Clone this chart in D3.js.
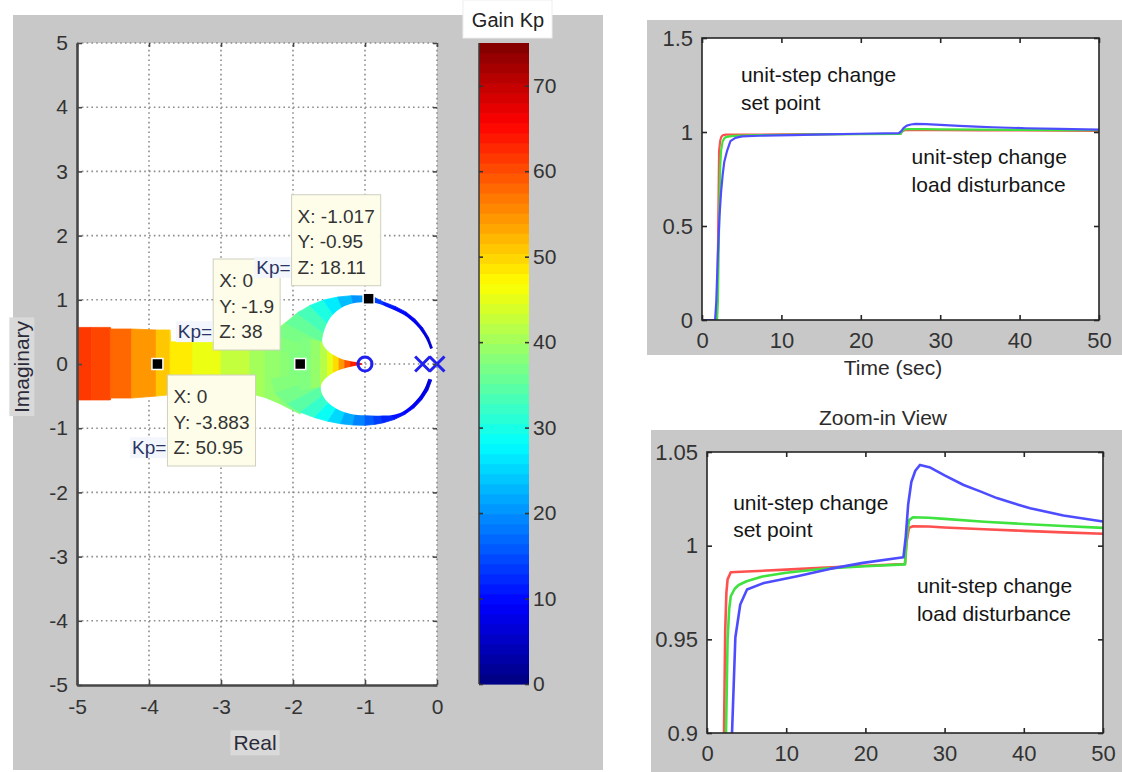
<!DOCTYPE html>
<html>
<head>
<meta charset="utf-8">
<script src="https://cdn.jsdelivr.net/npm/d3@7"></script>
<style>
  html, body { margin: 0; padding: 0; background: #fff; }
  svg { display: block; font-family: "Liberation Sans", Arial, sans-serif; }
</style>
</head>
<body>
<svg id="fig" width="1122" height="772"></svg>
<script>
// ---------------- root locus (left panel) ----------------
const reTicks = [-5, -4, -3, -2, -1, 0];
const imTicks = [-5, -4, -3, -2, -1, 0, 1, 2, 3, 4, 5];
const gainTicks = [0, 10, 20, 30, 40, 50, 60, 70];
const gainMax = 75;

// open-loop poles and zero
const poles = [0, -0.2];
const zeros = [-1.0];

// left band of the locus: vertical cross-sections (real part, upper edge, lower edge, gain)
const bandRe  = [-5.03, -4.80, -4.54, -4.53, -4.24, -3.90, -3.71, -3.70, -3.39, -3.00, -2.60, -2.39, -2.18, -2.04, -1.90];
const bandTop = [0.57, 0.57, 0.57, 0.545, 0.545, 0.53, 0.53, 0.345, 0.345, 0.345, 0.35, 0.42, 0.58, 0.70, 0.83];
const bandBot = [-0.56, -0.56, -0.56, -0.53, -0.53, -0.50, -0.48, -0.45, -0.44, -0.44, -0.46, -0.52, -0.62, -0.70, -0.78];
const bandKp  = [62, 61, 60, 59, 57, 52, 50, 49.5, 47, 44, 41, 39.5, 38.5, 38, 37];

// circular branches around the zero at -1: angle (deg), outer radius, gain
const lobeAngle  = [170, 160, 150, 140, 130, 120, 110, 100, 90, 82, 75, 65, 55, 45, 35, 25, 15];
const upperOuter = [1.32, 1.33, 1.27, 1.23, 1.19, 1.15, 1.11, 1.08, 1.06, 1.04, 1.0, 0.99, 0.99, 0.985, 0.98, 0.975, 0.97];
const upperKp    = [38, 37.5, 36.5, 34.5, 32, 28.5, 25, 21.5, 19, 16, 12, 10.5, 9.5, 8.5, 7.5, 6.5, 5.5];
const lowerOuter = [1.32, 1.33, 1.25, 1.17, 1.09, 1.03, 0.99, 0.965, 0.955, 0.95, 0.95, 0.955, 0.96, 0.965, 0.965, 0.965, 0.96];
const lowerKp    = [38, 37.5, 36, 33.5, 30.5, 27, 23.5, 20.5, 17.5, 15, 13, 11, 10, 9, 8, 7, 6];

// real-axis segment running into the zero
const wedgeRe   = [-1.90, -1.75, -1.62, -1.52, -1.44, -1.36, -1.28, -1.20, -1.12, -1.04, -1.00];
const wedgeHalf = [0.40, 0.38, 0.35, 0.25, 0.17, 0.12, 0.09, 0.07, 0.05, 0.04, 0.03];
const wedgeKp   = [37, 38, 40, 43, 47, 52, 57, 62, 65, 67, 67];

// region enclosed by the branches (left empty)
const holePts = [
  [-1.03, 0.0], [-1.10, 0.025], [-1.21, 0.045], [-1.35, 0.09], [-1.50, 0.19], [-1.59, 0.32],
  [-1.58, 0.47], [-1.54, 0.60], [-1.46, 0.75], [-1.32, 0.88], [-1.16, 0.945], [-0.97, 0.96],
  [-0.80, 0.935], [-0.68, 0.879], [-0.464, 0.766], [-0.284, 0.601], [-0.153, 0.395], [-0.085, 0.194],
  [-0.065, 0.0],
  [-0.11, -0.19], [-0.175, -0.385], [-0.303, -0.585], [-0.478, -0.745], [-0.62, -0.795], [-0.80, -0.805],
  [-1.0, -0.80], [-1.21, -0.774], [-1.39, -0.70], [-1.53, -0.58], [-1.61, -0.42], [-1.60, -0.30],
  [-1.51, -0.19], [-1.35, -0.09], [-1.21, -0.045], [-1.10, -0.025]
];

// data tips: X, Y, Z (Kp)
const tipX = [-1.017, 0, 0];
const tipY = [-0.95, -1.9, -3.883];
const tipZ = [18.11, 38, 50.95];

// ---------------- closed-loop responses (right panels) ----------------
const timeTicks = [0, 10, 20, 30, 40, 50];
const respTicks = [0, 0.5, 1, 1.5];
const zoomTicks = [0.9, 0.95, 1, 1.05];

const redT = [0, 1.85, 1.95, 2.05, 2.15, 2.3, 2.45, 2.6, 3.0, 5, 10, 15, 20, 25, 25.2, 25.5, 26, 28, 30, 35, 40, 45, 50];
const redV = [0, 0, 0.15, 0.55, 0.9, 0.955, 0.975, 0.982, 0.9858, 0.9862, 0.9872, 0.9883, 0.9893, 0.9902, 1.002, 1.0095, 1.0104, 1.0102, 1.0097, 1.0088, 1.0079, 1.0071, 1.0064];

const greenT = [0, 1.9, 2.0, 2.1, 2.2, 2.3, 2.4, 2.6, 2.8, 3.0, 3.5, 4, 5, 7, 10, 15, 20, 25, 25.2, 25.5, 26, 28, 30, 35, 40, 45, 50];
const greenV = [0, 0, 0.1, 0.35, 0.62, 0.82, 0.9, 0.95, 0.966, 0.973, 0.977, 0.979, 0.981, 0.9835, 0.9855, 0.9878, 0.989, 0.9900, 1.004, 1.0135, 1.0152, 1.0149, 1.0143, 1.0128, 1.0116, 1.0105, 1.0095];

const blueT = [0, 1.65, 1.8, 2.0, 2.2, 2.4, 2.6, 2.8, 3.16, 3.58, 4.2, 5.05, 7.2, 11.4, 15.5, 19.7, 24.8, 25.1, 25.4, 25.8, 26.3, 26.9, 28.2, 30, 32.4, 34.5, 36.6, 38.7, 40.8, 45, 50];
const blueV = [0, 0, 0.1, 0.35, 0.55, 0.68, 0.77, 0.84, 0.9, 0.951, 0.9686, 0.9766, 0.9801, 0.9837, 0.9876, 0.9908, 0.9938, 1.005, 1.022, 1.034, 1.040, 1.0431, 1.0417, 1.0375, 1.0324, 1.029, 1.0254, 1.0226, 1.020, 1.0161, 1.0129];

// ---------------- drawing ----------------
const W = 1122, H = 772;
const svg = d3.select("#fig");
const defs = svg.append("defs");
const FONT = "\"Liberation Sans\", Arial, sans-serif";
const PANEL = "#c8c8c8";
const TICK_TEXT = "#333";

svg.append("rect").attr("width", W).attr("height", H).attr("fill", "#fff");

// jet colormap
const clamp01 = v => Math.max(0, Math.min(1, v));
const jet = t => d3.rgb(
  255 * clamp01(1.5 - Math.abs(4 * t - 3)),
  255 * clamp01(1.5 - Math.abs(4 * t - 2)),
  255 * clamp01(1.5 - Math.abs(4 * t - 1))
).formatHex();
const kpColor = d3.scaleSequential(jet).domain([0, gainMax]);

// ===== left panel =====
svg.append("rect").attr("x", 13).attr("y", 15).attr("width", 590).attr("height", 755).attr("fill", PANEL);

const xRe = d3.scaleLinear().domain([-5, 0]).range([77, 437]);
const yIm = d3.scaleLinear().domain([-5, 5]).range([685, 43]);

svg.append("rect").attr("x", xRe(-5)).attr("y", yIm(5))
  .attr("width", xRe(0) - xRe(-5)).attr("height", yIm(-5) - yIm(5)).attr("fill", "#fff");

// dotted grid
const grid = svg.append("g").attr("stroke", "#8c8c8c").attr("stroke-width", 1.6)
  .attr("stroke-dasharray", "1.6,3.2");
reTicks.filter(v => v > -5).forEach(v => grid.append("line")
  .attr("x1", xRe(v)).attr("x2", xRe(v)).attr("y1", yIm(-5)).attr("y2", yIm(5)));
imTicks.filter(v => v > -5).forEach(v => grid.append("line")
  .attr("x1", xRe(-5)).attr("x2", xRe(0)).attr("y1", yIm(v)).attr("y2", yIm(v)));

// clip + hole mask for the locus
defs.append("clipPath").attr("id", "locusClip").append("rect")
  .attr("x", xRe(-5)).attr("y", yIm(5)).attr("width", xRe(0) - xRe(-5)).attr("height", yIm(-5) - yIm(5));
const holeLine = d3.line().x(d => xRe(d[0])).y(d => yIm(d[1])).curve(d3.curveCatmullRomClosed.alpha(0.5));
const mask = defs.append("mask").attr("id", "locusHoles").attr("maskUnits", "userSpaceOnUse")
  .attr("x", 0).attr("y", 0).attr("width", W).attr("height", H);
mask.append("rect").attr("width", W).attr("height", H).attr("fill", "white");
mask.append("path").attr("d", holeLine(holePts)).attr("fill", "black");

const locusClip = svg.append("g").attr("clip-path", "url(#locusClip)");
const locus = locusClip.append("g").attr("mask", "url(#locusHoles)");
const polyLine = d3.line().x(d => xRe(d[0])).y(d => yIm(d[1]));
const drawPoly = (pts, kp) => {
  const c = kpColor(kp);
  locus.append("path").attr("d", polyLine(pts) + "Z").attr("fill", c)
    .attr("stroke", c).attr("stroke-width", 0.8).attr("stroke-linejoin", "round");
};

// band
d3.range(bandRe.length - 1).forEach(i => {
  drawPoly([[bandRe[i], bandTop[i]], [bandRe[i + 1], bandTop[i + 1]],
            [bandRe[i + 1], bandBot[i + 1]], [bandRe[i], bandBot[i]]],
           (bandKp[i] + bandKp[i + 1]) / 2);
});

// circular branches
const center = [zeros[0], 0];
const polar = (r, deg) => [center[0] + r * Math.cos(deg * Math.PI / 180), center[1] + r * Math.sin(deg * Math.PI / 180)];
const drawLobe = (radii, kps, sign) => {
  d3.range(lobeAngle.length - 1).forEach(i => {
    drawPoly([center, polar(radii[i], sign * lobeAngle[i]), polar(radii[i + 1], sign * lobeAngle[i + 1])],
             (kps[i] + kps[i + 1]) / 2);
  });
};
drawLobe(upperOuter, upperKp, 1);
drawLobe(lowerOuter, lowerKp, -1);

// real-axis segment
d3.range(wedgeRe.length - 1).forEach(i => {
  drawPoly([[wedgeRe[i], wedgeHalf[i]], [wedgeRe[i + 1], wedgeHalf[i + 1]],
            [wedgeRe[i + 1], -wedgeHalf[i + 1]], [wedgeRe[i], -wedgeHalf[i]]],
           (wedgeKp[i] + wedgeKp[i + 1]) / 2);
});

// zero (o) and poles (x)
const pzColor = "#2020f0";
zeros.forEach(z => svg.append("circle").attr("cx", xRe(z)).attr("cy", yIm(0)).attr("r", 7)
  .attr("fill", "none").attr("stroke", pzColor).attr("stroke-width", 3));
poles.forEach(p => {
  const cx = xRe(p), cy = yIm(0), s = 7.5;
  svg.append("path").attr("d", `M${cx - s},${cy - s}L${cx + s},${cy + s}M${cx - s},${cy + s}L${cx + s},${cy - s}`)
    .attr("stroke", pzColor).attr("stroke-width", 3).attr("fill", "none");
});

// axes of the locus plot
const axCol = "#474747";
const gLeft = svg.append("g").attr("transform", `translate(${xRe(-5)},0)`)
  .call(d3.axisLeft(yIm).tickValues(imTicks).tickSize(-5).tickSizeOuter(0).tickPadding(9).tickFormat(d => String(d)));
const gBottom = svg.append("g").attr("transform", `translate(0,${yIm(-5)})`)
  .call(d3.axisBottom(xRe).tickValues(reTicks).tickSize(-5).tickSizeOuter(0).tickPadding(14).tickFormat(d => String(d)));
const gRight = svg.append("g").attr("transform", `translate(${xRe(0)},0)`)
  .call(d3.axisRight(yIm).tickValues(imTicks).tickSize(-4).tickFormat(""));
const gTop = svg.append("g").attr("transform", `translate(0,${yIm(5)})`)
  .call(d3.axisTop(xRe).tickValues(reTicks).tickSize(-4).tickFormat(""));
[gRight, gTop].forEach(g => g.select(".domain").remove());
[gLeft, gBottom, gRight, gTop].forEach(g => {
  g.selectAll(".tick line").attr("stroke", axCol).attr("stroke-width", 1.6);
  g.selectAll("text").attr("font-family", FONT).attr("font-size", 21).attr("fill", TICK_TEXT);
});
[gLeft, gBottom].forEach(g => g.select(".domain").attr("stroke", axCol).attr("stroke-width", 2.6));

// axis labels with light boxes
const labelBox = (x, y, text, rotate) => {
  const g = svg.append("g").attr("transform", `translate(${x},${y})${rotate ? " rotate(-90)" : ""}`);
  const r = g.append("rect").attr("fill", "#d9d9d9");
  const t = g.append("text").attr("text-anchor", "middle").attr("dy", "0.35em")
    .attr("font-family", FONT).attr("font-size", 21).attr("fill", "#2b2b3a").text(text);
  const bb = t.node().getBBox();
  r.attr("x", bb.x - 3).attr("y", bb.y - 1).attr("width", bb.width + 6).attr("height", bb.height + 2);
};
labelBox((xRe(-5) + xRe(0)) / 2 - 2, 743, "Real", false);
labelBox(22, 367, "Imaginary", true);

// data tips: markers and boxes first, "Kp=" prefixes on top of everything
const tipOffset = [[-77, -104], [-87, -105], [10, 11]];
const tipLayer = svg.append("g");
const kpLayer = svg.append("g");
tipX.forEach((tx, i) => {
  const mx = xRe(tipY[i]), my = yIm(-tx);
  tipLayer.append("rect").attr("x", mx - 5.5).attr("y", my - 5.5).attr("width", 11).attr("height", 11)
    .attr("fill", "#000").attr("stroke", "#fff").attr("stroke-width", 1.5);
  const bx = mx + tipOffset[i][0], by = my + tipOffset[i][1];
  const g = tipLayer.append("g");
  const box = g.append("rect").attr("x", bx).attr("y", by).attr("height", 91)
    .attr("fill", "#fdfdea").attr("stroke", "#d0d0c0").attr("stroke-width", 1);
  const lines = [`X: ${tx}`, `Y: ${tipY[i]}`, `Z: ${tipZ[i]}`];
  let wMax = 0;
  lines.forEach((s, k) => {
    const t = g.append("text").attr("x", bx + 6).attr("y", by + 21.5 + k * 25.5).attr("dy", "0.35em")
      .attr("font-family", FONT).attr("font-size", 19).attr("fill", "#333").text(s);
    wMax = Math.max(wMax, t.node().getComputedTextLength());
  });
  box.attr("width", wMax + 12);
  const kg = kpLayer.append("g");
  const kr = kg.append("rect").attr("fill", "#f4f6fd");
  const kt = kg.append("text").attr("x", bx - 1).attr("y", by + 21.5 + 2 * 25.5).attr("dy", "0.35em")
    .attr("text-anchor", "end").attr("font-family", FONT).attr("font-size", 19).attr("fill", "#2a3462").text("Kp=");
  const kb = kt.node().getBBox();
  kr.attr("x", kb.x - 2).attr("y", kb.y).attr("width", kb.width + 2).attr("height", kb.height);
});

// colorbar
const cbX0 = 479, cbX1 = 529;
const cbY = d3.scaleLinear().domain([0, gainMax]).range([684, 43]);
const nColors = 64;
d3.range(nColors).forEach(i => {
  const v0 = i * gainMax / nColors, v1 = (i + 1) * gainMax / nColors;
  svg.append("rect").attr("x", cbX0).attr("y", cbY(v1)).attr("width", cbX1 - cbX0)
    .attr("height", cbY(v0) - cbY(v1) + 0.6).attr("fill", jet((i + 0.5) / nColors));
});
svg.append("line").attr("x1", cbX0).attr("x2", cbX0).attr("y1", cbY(gainMax)).attr("y2", cbY(0))
  .attr("stroke", "#3a3a3a").attr("stroke-width", 1.5);
const cbR = svg.append("g").attr("transform", `translate(${cbX1},0)`)
  .call(d3.axisRight(cbY).tickValues(gainTicks).tickSize(-4).tickPadding(4).tickFormat(d => String(d)));
const cbL = svg.append("g").attr("transform", `translate(${cbX0},0)`)
  .call(d3.axisLeft(cbY).tickValues(gainTicks).tickSize(-4).tickFormat(""));
[cbR, cbL].forEach(g => {
  g.select(".domain").remove();
  g.selectAll(".tick line").attr("stroke", "#333").attr("stroke-width", 1.6);
  g.selectAll("text").attr("font-family", FONT).attr("font-size", 21).attr("fill", TICK_TEXT);
});
svg.append("rect").attr("x", 463).attr("y", 0).attr("width", 89).attr("height", 38)
  .attr("fill", "#fff").attr("stroke", "#eeeeee");
svg.append("text").attr("x", 508).attr("y", 20).attr("dy", "0.35em").attr("text-anchor", "middle")
  .attr("font-family", FONT).attr("font-size", 20).attr("fill", "#222").text("Gain Kp");

// ===== response panels =====
const series = [
  { t: redT, v: redV, color: "#ff5050" },
  { t: greenT, v: greenV, color: "#3fe23f" },
  { t: blueT, v: blueV, color: "#4d4dff" }
];

function responsePanel(opt) {
  const { panel, xr, yr, yDomain, yTicks, id, lw, xPad, yPad, notes } = opt;
  svg.append("rect").attr("x", panel[0]).attr("y", panel[1]).attr("width", panel[2]).attr("height", panel[3]).attr("fill", PANEL);
  const x = d3.scaleLinear().domain([0, 50]).range(xr);
  const y = d3.scaleLinear().domain(yDomain).range(yr);
  svg.append("rect").attr("x", xr[0]).attr("y", yr[1]).attr("width", xr[1] - xr[0]).attr("height", yr[0] - yr[1]).attr("fill", "#fff");
  defs.append("clipPath").attr("id", id).append("rect")
    .attr("x", xr[0]).attr("y", yr[1]).attr("width", xr[1] - xr[0]).attr("height", yr[0] - yr[1]);
  const g = svg.append("g").attr("clip-path", `url(#${id})`);
  const line = d3.line().x(d => x(d[0])).y(d => y(d[1]));
  series.forEach(s => {
    g.append("path").attr("d", line(s.t.map((tt, i) => [tt, s.v[i]])))
      .attr("fill", "none").attr("stroke", s.color).attr("stroke-width", lw).attr("stroke-linejoin", "round");
  });
  const axes = [
    svg.append("g").attr("transform", `translate(0,${yr[0]})`)
      .call(d3.axisBottom(x).tickValues(timeTicks).tickSize(-5).tickPadding(xPad).tickFormat(d => String(d))),
    svg.append("g").attr("transform", `translate(0,${yr[1]})`)
      .call(d3.axisTop(x).tickValues(timeTicks).tickSize(-5).tickFormat("")),
    svg.append("g").attr("transform", `translate(${xr[0]},0)`)
      .call(d3.axisLeft(y).tickValues(yTicks).tickSize(-5).tickPadding(yPad).tickFormat(d => String(d))),
    svg.append("g").attr("transform", `translate(${xr[1]},0)`)
      .call(d3.axisRight(y).tickValues(yTicks).tickSize(-5).tickFormat(""))
  ];
  axes.forEach(a => {
    a.select(".domain").remove();
    a.selectAll(".tick line").attr("stroke", "#262626").attr("stroke-width", 1.6);
    a.selectAll("text").attr("font-family", FONT).attr("font-size", 22).attr("fill", TICK_TEXT);
  });
  svg.append("rect").attr("x", xr[0]).attr("y", yr[1]).attr("width", xr[1] - xr[0]).attr("height", yr[0] - yr[1])
    .attr("fill", "none").attr("stroke", "#262626").attr("stroke-width", 1.6);
  notes.forEach(n => {
    n.lines.forEach((s, k) => svg.append("text").attr("x", x(n.t)).attr("y", y(n.v) + k * n.gap)
      .attr("font-family", FONT).attr("font-size", 21).attr("fill", "#151515").text(s));
  });
  return { x, y };
}

responsePanel({
  panel: [647, 20, W - 647, 335], xr: [702, 1099], yr: [320, 38], yDomain: [0, 1.5], yTicks: respTicks,
  id: "clipTop", lw: 2.2, xPad: 12, yPad: 9,
  notes: [
    { t: 4.9, v: 1.266, gap: 28.5, lines: ["unit-step change", "set point"] },
    { t: 26.4, v: 0.83, gap: 28, lines: ["unit-step change", "load disturbance"] }
  ]
});
svg.append("text").attr("x", 893).attr("y", 368).attr("dy", "0.35em").attr("text-anchor", "middle")
  .attr("font-family", FONT).attr("font-size", 21).attr("fill", "#2b2b2b").text("Time (sec)");

svg.append("text").attr("x", 883).attr("y", 418).attr("dy", "0.35em").attr("text-anchor", "middle")
  .attr("font-family", FONT).attr("font-size", 21).attr("fill", "#2b2b2b").text("Zoom-in View");
responsePanel({
  panel: [651, 430, W - 651, H - 430], xr: [707, 1103], yr: [733, 452], yDomain: [0.9, 1.05], yTicks: zoomTicks,
  id: "clipZoom", lw: 2.6, xPad: 12, yPad: 9,
  notes: [
    { t: 3.3, v: 1.0191, gap: 27.5, lines: ["unit-step change", "set point"] },
    { t: 26.5, v: 0.975, gap: 28.5, lines: ["unit-step change", "load disturbance"] }
  ]
});
</script>
</body>
</html>
